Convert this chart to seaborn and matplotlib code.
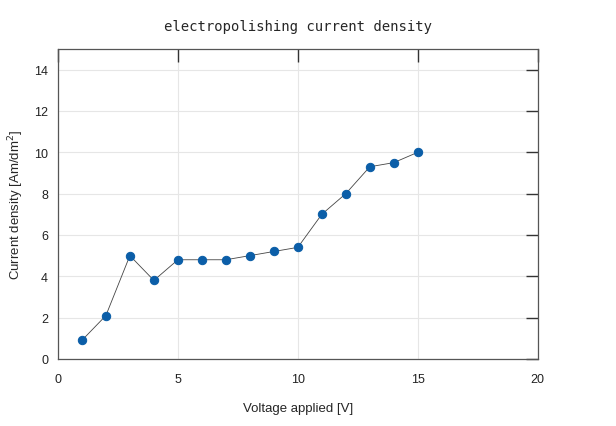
import pandas as pd
import matplotlib.pyplot as plt
import seaborn as sns

voltage = [1, 2, 3, 4, 5, 6, 7, 8, 9, 10, 11, 12, 13, 14, 15]
current_density = [0.9, 2.1, 5.0, 3.8, 4.8, 4.8, 4.8, 5.0, 5.2, 5.4, 7.0, 8.0, 9.3, 9.5, 10.0]

df = pd.DataFrame({'voltage': voltage, 'current_density': current_density})

sns.set_style('white')
plt.rcParams['font.family'] = ['Liberation Sans', 'DejaVu Sans']

fig = plt.figure(figsize=(6.16, 4.27), dpi=100)
ax = fig.add_axes([0.094, 0.157, 0.779, 0.726])

sns.lineplot(x='voltage', y='current_density', data=df, ax=ax,
             color='#444444', linewidth=0.6, marker='o', markersize=6,
             markerfacecolor='#0b5ea8', markeredgecolor='#0b5ea8')

ax.set_xlim(0, 20)
ax.set_ylim(0, 15)
ax.set_xticks([0, 5, 10, 15, 20])
ax.set_yticks([0, 2, 4, 6, 8, 10, 12, 14])
ax.grid(True, color='#e6e6e6', linewidth=0.8)
ax.set_axisbelow(True)
ax.tick_params(direction='in', length=9, width=1, color='#333333',
               top=True, right=True, labelsize=9, labelcolor='#222222')
ax.tick_params(axis='x', pad=10)
ax.tick_params(axis='y', pad=7)
for s in ax.spines.values():
    s.set_color('#555555')
    s.set_linewidth(0.9)

ax.set_xlabel('Voltage applied [V]', fontsize=9.5, labelpad=12)
ax.set_ylabel('Current density [Am/dm$^2$]', fontsize=9.5, labelpad=6)
ax.set_title('electropolishing current density', fontsize=10,
             family='DejaVu Sans Mono', pad=14)

fig.savefig('out.png', dpi=100)
